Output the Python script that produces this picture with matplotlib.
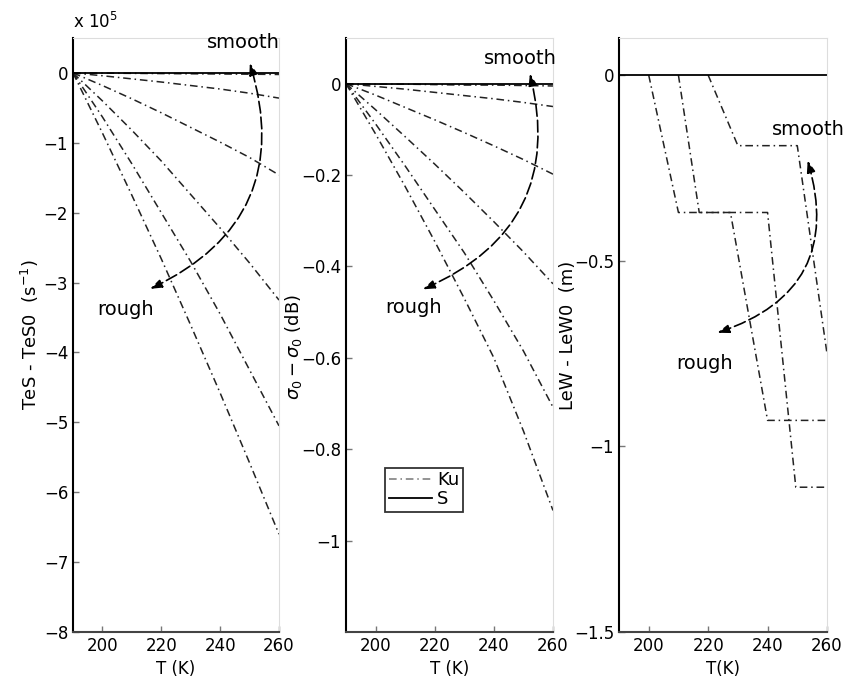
import matplotlib.pyplot as plt
import numpy as np

plt.rcParams['font.family'] = ['DejaVu Sans']

# temperature grid (K)
T = [190, 200, 210, 220, 230, 240, 250, 260]

# panel 1: TeS - TeS0 (x 1e5 s^-1), Ku band, smooth -> rough
tes_ku = [
    [0, -0.003, -0.006, -0.009, -0.012, -0.015, -0.018, -0.022],
    [0, -0.04, -0.085, -0.13, -0.18, -0.23, -0.29, -0.36],
    [0, -0.18, -0.37, -0.57, -0.78, -0.99, -1.21, -1.46],
    [0, -0.40, -0.82, -1.26, -1.74, -2.22, -2.72, -3.25],
    [0, -0.63, -1.30, -2.00, -2.70, -3.45, -4.25, -5.05],
    [0, -0.86, -1.75, -2.66, -3.61, -4.58, -5.58, -6.60],
]
tes_s = [0, 0, 0, 0, 0, 0, 0, 0]

# panel 2: sigma0 difference (dB)
sig_ku = [
    [0, -0.001, -0.001, -0.002, -0.003, -0.003, -0.004, -0.005],
    [0, -0.006, -0.012, -0.019, -0.026, -0.033, -0.041, -0.05],
    [0, -0.025, -0.052, -0.079, -0.107, -0.136, -0.166, -0.198],
    [0, -0.057, -0.116, -0.176, -0.238, -0.302, -0.368, -0.438],
    [0, -0.088, -0.18, -0.275, -0.37, -0.475, -0.585, -0.708],
    [0, -0.11, -0.225, -0.345, -0.47, -0.60, -0.76, -0.934],
]
sig_s = [0, 0, 0, 0, 0, 0, 0, 0]

# panel 3: LeW - LeW0 (m), step-like curves
lew_T = [
    [200, 210, 227.5, 240, 260],
    [210, 217, 240, 249.5, 260],
    [220, 230, 250, 260],
]
lew_ku = [
    [0, -0.37, -0.37, -0.93, -0.93],
    [0, -0.37, -0.37, -1.11, -1.11],
    [0, -0.19, -0.19, -0.75],
]
lew_s_T = [190, 260]
lew_s = [0, 0]

ku_style = dict(color='#222222', lw=1.1, linestyle=(0, (5, 2.5, 1, 2.5)))
s_style = dict(color='black', lw=1.3)

fig = plt.figure(figsize=(8.5, 6.84), dpi=100)
ax1 = fig.add_axes([73/850, 1-632/684, 206/850, 594/684])
ax2 = fig.add_axes([346/850, 1-632/684, 207/850, 594/684])
ax3 = fig.add_axes([619/850, 1-632/684, 208/850, 594/684])


def style_axes(ax):
    ax.spines['left'].set_color('black')
    ax.spines['left'].set_linewidth(1.5)
    ax.spines['bottom'].set_color('#444444')
    ax.spines['bottom'].set_linewidth(1.5)
    for s in ['top', 'right']:
        ax.spines[s].set_color('#dddddd')
        ax.spines[s].set_linewidth(0.8)
    ax.tick_params(direction='in', length=4, width=1, color='#777777',
                   labelsize=12, top=False, right=False)
    ax.set_xlim(190, 260)
    ax.set_xticks([200, 220, 240, 260])


def smooth_rough(ax, rough_pt, smooth_pt, rad, smooth_txt, rough_txt):
    ax.annotate('', xy=smooth_pt, xytext=rough_pt,
                arrowprops=dict(arrowstyle='<|-|>,head_length=0.7,head_width=0.25',
                                connectionstyle='arc3,rad=%s' % rad,
                                linestyle=(0, (7, 2.5)), color='black', lw=1.2,
                                shrinkA=0, shrinkB=0))
    ax.text(*smooth_txt, 'smooth', fontsize=14, ha='center', va='center')
    ax.text(*rough_txt, 'rough', fontsize=14, ha='center', va='center')


# panel 1
for i, v in enumerate(tes_ku):
    ax1.plot(T, v, **ku_style)
ax1.plot(T, tes_s, **s_style)
style_axes(ax1)
ax1.set_ylim(-8, 0.5)
ax1.set_yticks(range(-8, 1))
ax1.set_yticklabels(['\u2212%d' % k if k else '0' for k in range(8, -1, -1)])
ax1.set_xlabel('T (K)', fontsize=12)
ax1.set_ylabel('TeS - TeS0  (s$^{-1}$)', fontsize=13, labelpad=2)
ax1.text(0, 1.01, 'x 10$^5$', transform=ax1.transAxes, fontsize=12,
         ha='left', va='bottom')
smooth_rough(ax1, (216.2, -3.09), (250.1, 0.14), 0.43, (247.8, 0.43), (208, -3.39))

# panel 2
for i, v in enumerate(sig_ku):
    ax2.plot(T, v, label='Ku' if i == 0 else None, **ku_style)
ax2.plot(T, sig_s, label='S', **s_style)
style_axes(ax2)
ax2.set_ylim(-1.2, 0.1)
yt2 = [-1, -0.8, -0.6, -0.4, -0.2, 0]
ax2.set_yticks(yt2)
ax2.set_yticklabels(['\u22121', '\u22120.8', '\u22120.6', '\u22120.4', '\u22120.2', '0'])
ax2.set_xlabel('T (K)', fontsize=12)
ax2.set_ylabel(r'$\sigma_0 - \sigma_0$ (dB)', fontsize=13)
ax2.yaxis.set_label_coords(-0.205, 0.48)
smooth_rough(ax2, (216.0, -0.45), (252.2, 0.022), 0.42, (248.8, 0.055), (212.9, -0.49))
leg = ax2.legend(loc='lower left', bbox_to_anchor=(0.188, 0.202), fontsize=13,
                 frameon=True, fancybox=False, handlelength=2.4,
                 handletextpad=0.3, borderpad=0.2, labelspacing=0.05,
                 borderaxespad=0)
leg.get_frame().set_edgecolor('black')
leg.get_frame().set_linewidth(1.3)
leg.get_lines()[0].set_color('#777777')

# panel 3
for tt, v in zip(lew_T, lew_ku):
    ax3.plot(tt, v, **ku_style)
ax3.plot(lew_s_T, lew_s, **s_style)
style_axes(ax3)
ax3.set_ylim(-1.5, 0.1)
ax3.set_yticks([-1.5, -1, -0.5, 0])
ax3.set_yticklabels(['\u22121.5', '\u22121', '\u22120.5', '0'])
ax3.set_xlabel('T(K)', fontsize=12)
ax3.set_ylabel('LeW - LeW0  (m)', fontsize=13)
ax3.yaxis.set_label_coords(-0.2, 0.5)
smooth_rough(ax3, (223.1, -0.694), (253.5, -0.23), 0.48, (253.9, -0.147), (218.9, -0.776))

fig.savefig('out.png', dpi=100)
